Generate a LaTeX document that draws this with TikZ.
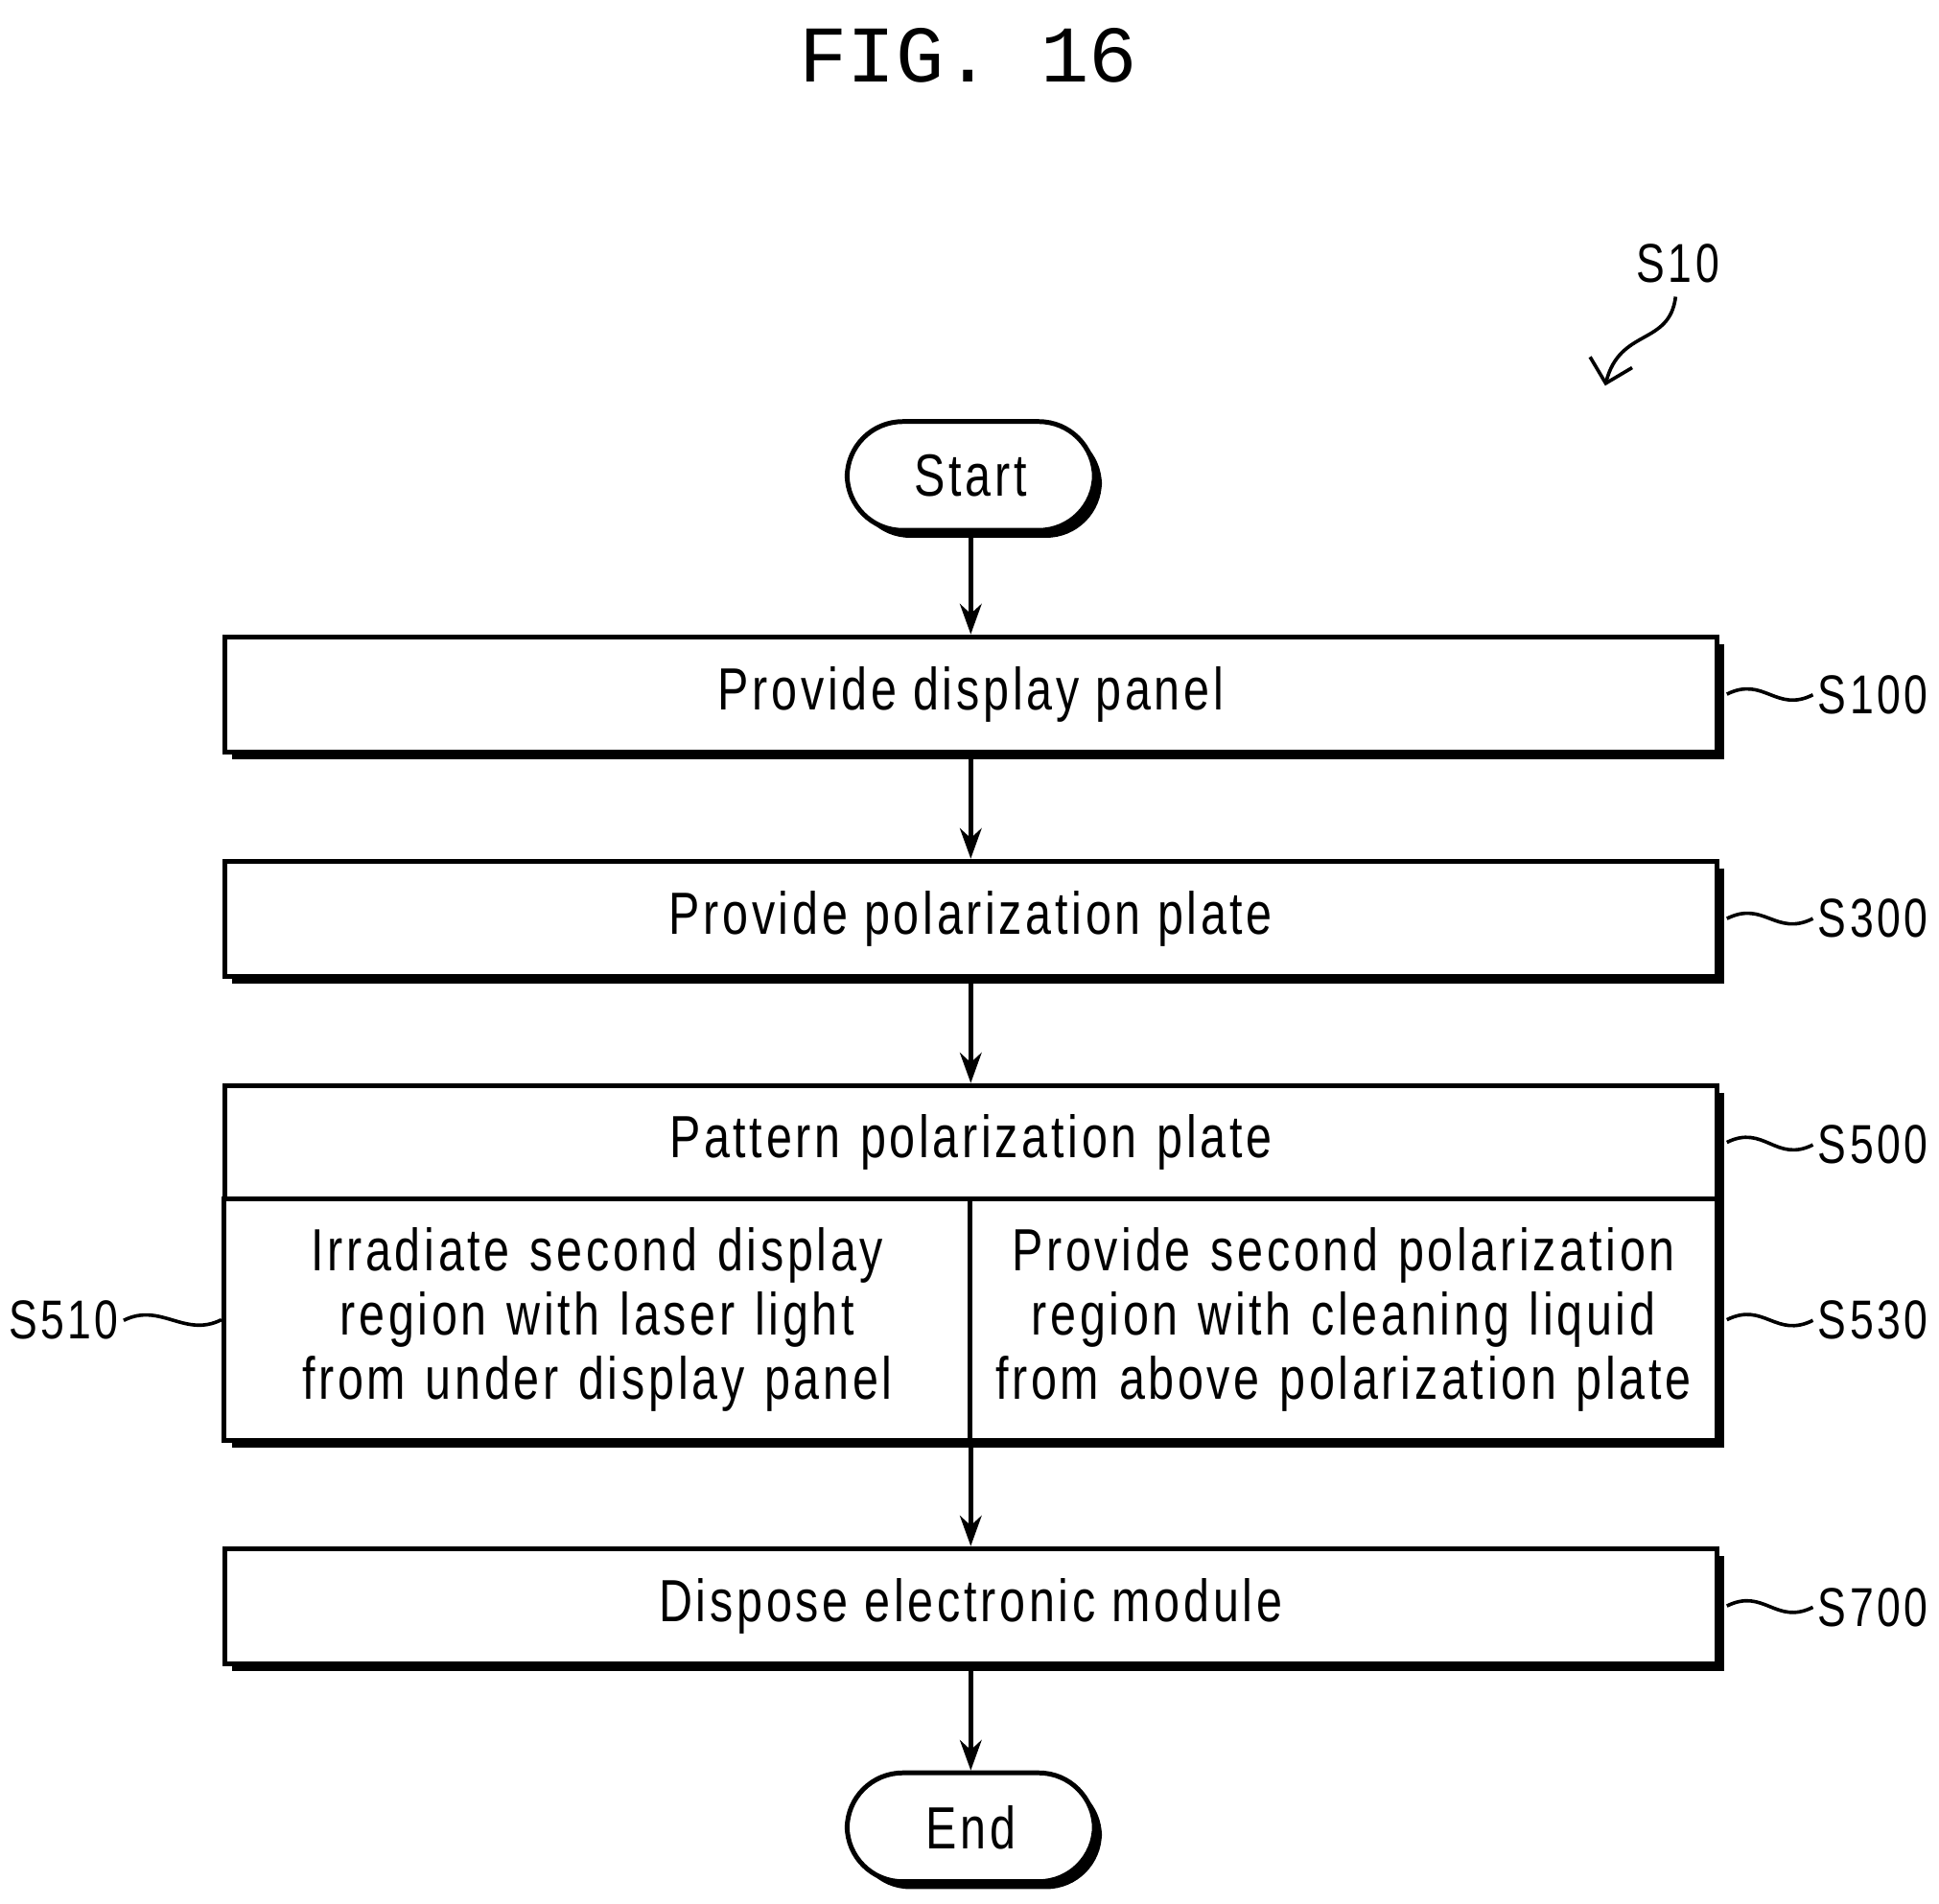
\documentclass[tikz,border=0pt]{standalone}
\usepackage{fontspec}
\setmainfont{Liberation Sans}[FakeStretch=0.78,LetterSpace=6]
\setmonofont{Liberation Mono}
\usetikzlibrary{shadows,arrows.meta}
\tikzset{
  box/.style={draw, line width=1.1pt, fill=white, minimum width=12.07cm, minimum height=0.93cm,
    font=\fontsize{13.7}{15}\selectfont, drop shadow={shadow xshift=0.06cm, shadow yshift=-0.06cm, fill=black, opacity=1}},
  sub/.style={draw, line width=1.1pt, fill=white, minimum width=6.04cm, minimum height=1.95cm,
    inner sep=1pt, text width=5.9cm, align=center, font=\fontsize{13.7}{14.8}\selectfont},
  term/.style={box, rounded corners=0.45cm, minimum width=2cm, minimum height=0.88cm},
  lbl/.style={font=\fontsize{12.6}{15}\selectfont, inner sep=1pt},
  flow/.style={-{Stealth[length=7pt,width=5pt]}, line width=1pt},
  wave/.style={line width=0.8pt}
}
\begin{document}
\begin{tikzpicture}
\useasboundingbox (0,0) rectangle (15.68,15.40);
\node (fig) at (7.83,14.95) {\ttfamily\fontsize{18.5}{22}\selectfont FIG. 16};
\node[lbl] (s10) at (13.57,13.27) {S10};
\coordinate (s10end) at (12.98,12.28);
\draw[wave, -{Straight Barb[length=5pt]}] (13.55,13.0) .. controls (13.5,12.6) and (13.1,12.75) .. (s10end);

\node[term] (start) at (7.85,11.55) {Start};
\node[box] (p100) at (7.85,9.785) {Provide display panel};
\node[box] (p300) at (7.85,7.97) {Provide polarization plate};
\node[box, minimum height=2.87cm] (p500) at (7.85,5.185) {};
\node[sub, minimum width=12.07cm, text width=11.9cm, minimum height=0.92cm] (p500t) at (7.85,6.16) {Pattern polarization plate};
\node[sub] (p510) at (4.83,4.725) {Irradiate second display\\region with laser light\\from under display panel};
\node[sub] (p530) at (10.865,4.725) {Provide second polarization\\region with cleaning liquid\\from above polarization plate};
\node[box] (p700) at (7.85,2.41) {Dispose electronic module};
\node[term] (end) at (7.85,0.62) {End};

\draw[flow] (start) -- (p100);
\draw[flow] (p100) -- (p300);
\draw[flow] (p300) -- (p500t);
\draw[flow] (p500.south) -- (p700);
\draw[flow] (p700) -- (end);

\node[lbl, anchor=west] (l100) at (14.66,9.78) {S100};
\node[lbl, anchor=west] (l300) at (14.66,7.97) {S300};
\node[lbl, anchor=west] (l500) at (14.66,6.14) {S500};
\node[lbl, anchor=west] (l530) at (14.66,4.72) {S530};
\node[lbl, anchor=west] (l700) at (14.66,2.40) {S700};
\node[lbl, anchor=east] (l510) at (1.0,4.72) {S510};
\foreach \b/\l in {p100/l100, p300/l300, p500t/l500, p530/l530, p700/l700}
  \draw[wave] ([xshift=0.06cm]\b.east) .. controls +(0.3,0.15) and +(-0.3,-0.15) .. (\l.west);
\draw[wave] (l510.east) .. controls +(0.3,0.15) and +(-0.3,-0.15) .. (p510.west);
\end{tikzpicture}
\end{document}
